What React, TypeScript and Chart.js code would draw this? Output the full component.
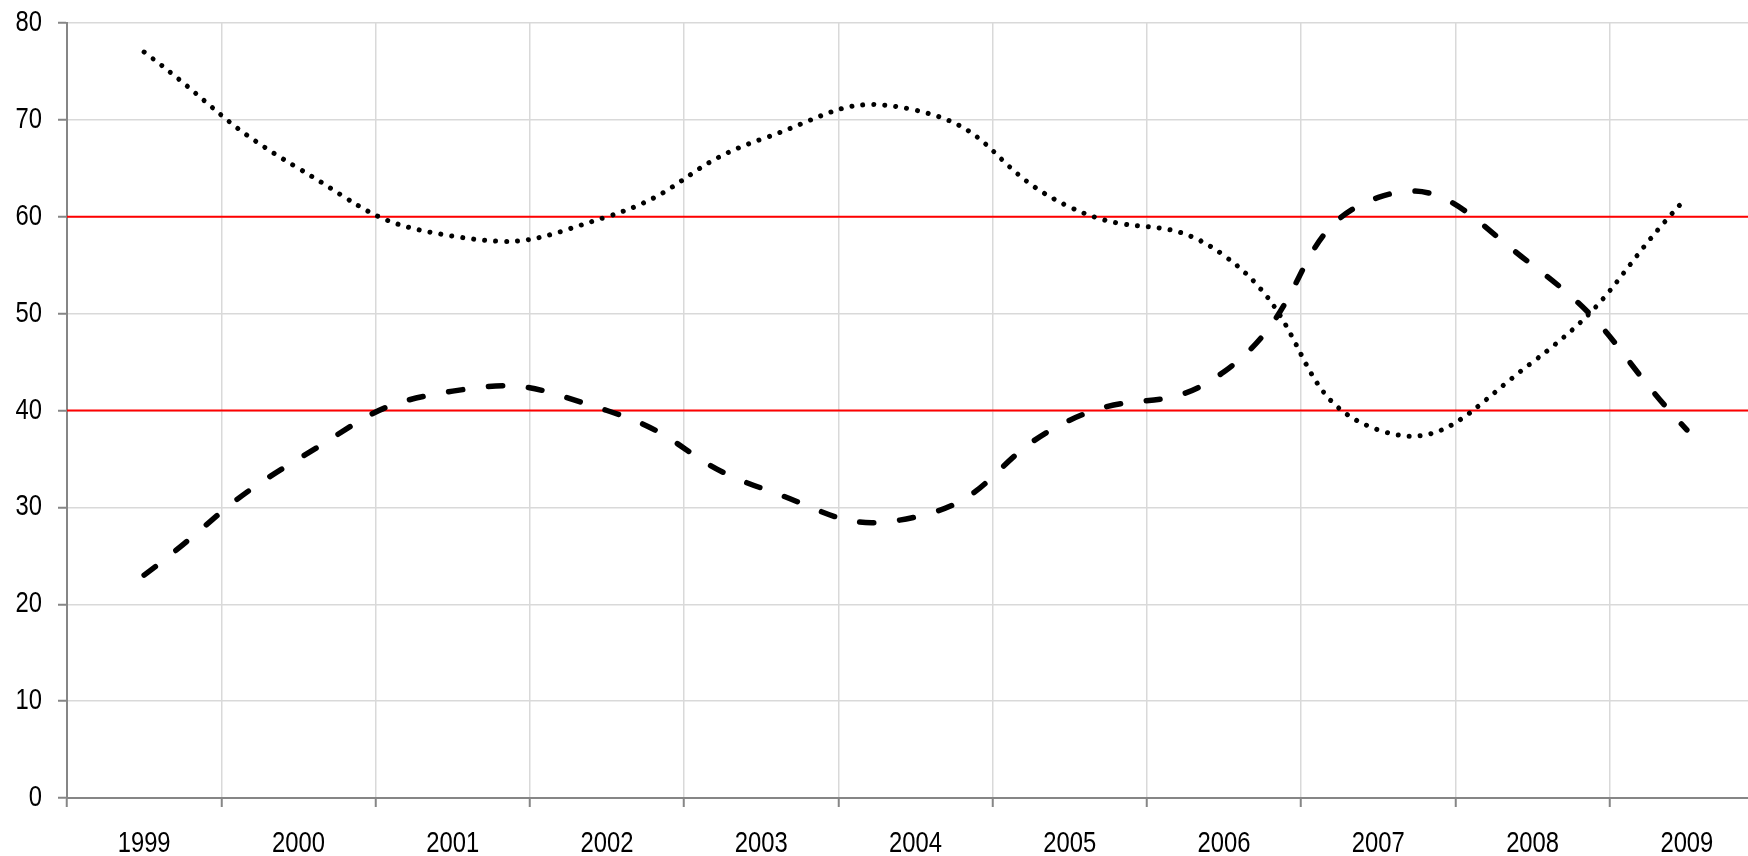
import React, { useEffect, useRef } from "react";
import { Chart, registerables } from "chart.js";

Chart.register(...registerables);

const categories = ["1999", "2000", "2001", "2002", "2003", "2004", "2005", "2006", "2007", "2008", "2009"];
const dottedSeries = [77, 65, 58, 60, 68, 71, 61, 56, 38, 45, 62];
const dashedSeries = [23, 35, 42, 40, 32, 29, 39, 44, 62, 55, 38];
const referenceLines = [60, 40];
const yMin = 0;
const yMax = 80;
const yStep = 10;

const FONT_FAMILY = "'Liberation Sans', Arial, sans-serif";
const TEXT_X_SCALE = 0.82; // narrow (Arial Narrow-like) rendering of the tick labels

const refLinePlugin = {
  id: "refLines",
  beforeDatasetsDraw(chart: any) {
    const { ctx, chartArea, scales } = chart;
    ctx.save();
    ctx.strokeStyle = "#ff0000";
    ctx.lineWidth = 2;
    referenceLines.forEach((v) => {
      const y = scales.y.getPixelForValue(v);
      ctx.beginPath();
      ctx.moveTo(chartArea.left, y);
      ctx.lineTo(chartArea.right, y);
      ctx.stroke();
    });
    ctx.restore();
  },
};

const narrowTextPlugin = {
  id: "narrowText",
  beforeDraw(chart: any) {
    const ctx = chart.ctx;
    const proto = Object.getPrototypeOf(ctx);
    const orig = proto.fillText;
    ctx.fillText = function (text: string, x: number, y: number) {
      this.save();
      this.translate(x, y);
      this.scale(TEXT_X_SCALE, 1);
      orig.call(this, text, 0, 0);
      this.restore();
    };
  },
  afterDraw(chart: any) {
    delete chart.ctx.fillText;
  },
};

export default function App() {
  const canvasRef = useRef<HTMLCanvasElement | null>(null);

  useEffect(() => {
    if (!canvasRef.current) return;
    const chart = new Chart(canvasRef.current, {
      type: "line",
      data: {
        labels: categories,
        datasets: [
          {
            label: "Series 1",
            data: dottedSeries,
            borderColor: "#000000",
            borderWidth: 5,
            borderDash: [0.001, 11],
            borderCapStyle: "round",
            pointRadius: 0,
            tension: 0.5,
            fill: false,
          },
          {
            label: "Series 2",
            data: dashedSeries,
            borderColor: "#000000",
            borderWidth: 5.5,
            borderDash: [14, 26],
            borderCapStyle: "round",
            pointRadius: 0,
            tension: 0.5,
            fill: false,
          },
        ],
      },
      options: {
        responsive: false,
        animation: false,
        devicePixelRatio: 1,
        layout: { padding: { top: 23, right: 0, left: 0, bottom: 0 } },
        plugins: {
          legend: { display: false },
          tooltip: { enabled: false },
          title: { display: false },
        },
        scales: {
          x: {
            type: "category",
            offset: true,
            grid: {
              offset: true,
              color: "#d9d9d9",
              lineWidth: 1.5,
              drawTicks: true,
              tickLength: 9,
              tickColor: "#868686",
              tickWidth: 2,
            },
            border: { display: true, color: "#868686", width: 2 },
            ticks: {
              color: "#000000",
              font: { family: FONT_FAMILY, size: 29 },
              padding: 20,
              maxRotation: 0,
              autoSkip: false,
            },
            afterFit: (scale: any) => {
              scale.height = 58;
              scale.paddingLeft = 0;
              scale.paddingRight = 0;
            },
          },
          y: {
            type: "linear",
            min: yMin,
            max: yMax,
            ticks: {
              stepSize: yStep,
              color: "#000000",
              font: { family: FONT_FAMILY, size: 29 },
              padding: 16,
            },
            grid: {
              color: "#d9d9d9",
              lineWidth: 1.5,
              drawTicks: true,
              tickLength: 9,
              tickColor: "#868686",
              tickWidth: 2,
            },
            border: { display: true, color: "#868686", width: 2 },
            afterFit: (scale: any) => {
              scale.width = 67;
              scale.paddingTop = 0;
              scale.paddingBottom = 0;
            },
          },
        },
      },
      plugins: [narrowTextPlugin, refLinePlugin],
    });
    return () => chart.destroy();
  }, []);

  return (
    <div
      style={{
        position: "fixed",
        left: 0,
        top: 0,
        width: 1748,
        height: 856,
        overflow: "hidden",
        background: "#ffffff",
      }}
    >
      <canvas ref={canvasRef} width={1764} height={856} style={{ display: "block" }} />
    </div>
  );
}
